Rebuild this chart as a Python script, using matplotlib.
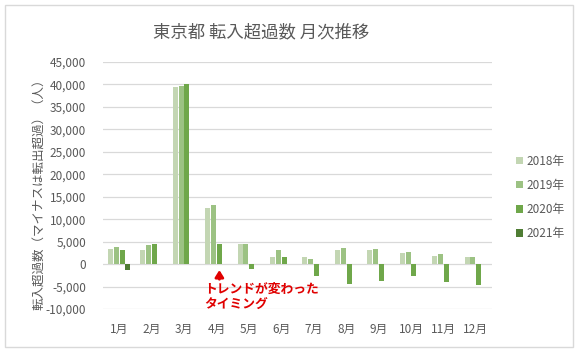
import numpy as np
import matplotlib
matplotlib.use("Agg")
import matplotlib.pyplot as plt
from matplotlib.patches import Rectangle
from matplotlib.ticker import FuncFormatter

plt.rcParams["font.family"] = ["Noto Sans CJK JP", "DejaVu Sans"]

months = ["1月", "2月", "3月", "4月", "5月", "6月", "7月", "8月", "9月", "10月", "11月", "12月"]
years = ["2018年", "2019年", "2020年", "2021年"]
y2018 = [3400, 3200, 39400, 12600, 4500, 1600, 1600, 3200, 3200, 2500, 1900, 1600]
y2019 = [3900, 4300, 39600, 13100, 4500, 3200, 1200, 3600, 3400, 2700, 2300, 1600]
y2020 = [3200, 4500, 40200, 4500, -1000, 1600, -2600, -4400, -3700, -2600, -3900, -4600]
y2021 = [-1400] + [np.nan] * 11
colors = ["#c3d6b3", "#9cc283", "#6fa74a", "#4f7d34"]

TXT = "#595959"
GRID = "#d9d9d9"

fig = plt.figure(figsize=(5.81, 3.54), dpi=100)
fig.patches.append(Rectangle((5 / 581, 1 - 347 / 354), 568 / 581, 342 / 354,
                             transform=fig.transFigure, fill=False,
                             edgecolor=GRID, linewidth=1.0))

ax = fig.add_axes([103 / 581, 1 - 309 / 354, 389 / 581, 247 / 354])
x = np.arange(len(months))
step, width = 0.18, 0.155
series = [y2018, y2019, y2020, y2021]
for i, (vals, lab, c) in enumerate(zip(series, years, colors)):
    ax.bar(x + (i - 1.5) * step, vals, width, color=c, label=lab, zorder=3)

ax.set_xlim(-0.5, 11.5)
ax.set_ylim(-10000, 45000)
ax.set_yticks(np.arange(-10000, 45001, 5000))
ax.yaxis.set_major_formatter(FuncFormatter(lambda v, p: f"{int(v):,}"))
ax.set_xticks(x)
ax.set_xticklabels(months)
ax.grid(axis="y", color=GRID, linewidth=0.9, zorder=0)
for s in ax.spines.values():
    s.set_visible(False)
ax.tick_params(length=0, colors=TXT, labelsize=8.5)
ax.tick_params(axis="y", pad=12)
ax.tick_params(axis="x", pad=10)

ax.annotate("", xy=(3 + 0.5 * step, -700), xytext=(3 + 0.5 * step, -4000),
            arrowprops=dict(arrowstyle="-|>,head_width=0.25,head_length=0.4",
                            color="#e00000", lw=2.0))
ax.text(2.62, -4100, "トレンドが変わった\nタイミング", color="#e00000",
        fontsize=9.2, fontweight="bold", ha="left", va="top", linespacing=1.2)

fig.text(261 / 581, 1 - 32 / 354, "東京都 転入超過数 月次推移", ha="center",
         va="center", fontsize=12.5, color=TXT)
fig.text(40 / 581, 1 - 191 / 354, "転入超過数（マイナスは転出超過）（人）",
         rotation=90, ha="center", va="center", fontsize=9, color=TXT)

fig.legend(loc="upper left", bbox_to_anchor=(505 / 581, 1 - 144 / 354),
           frameon=False, fontsize=8.5, labelcolor=TXT, handlelength=0.6,
           handleheight=0.6, handletextpad=0.3, labelspacing=0.95)

fig.savefig("out.png", dpi=100, facecolor="white")
